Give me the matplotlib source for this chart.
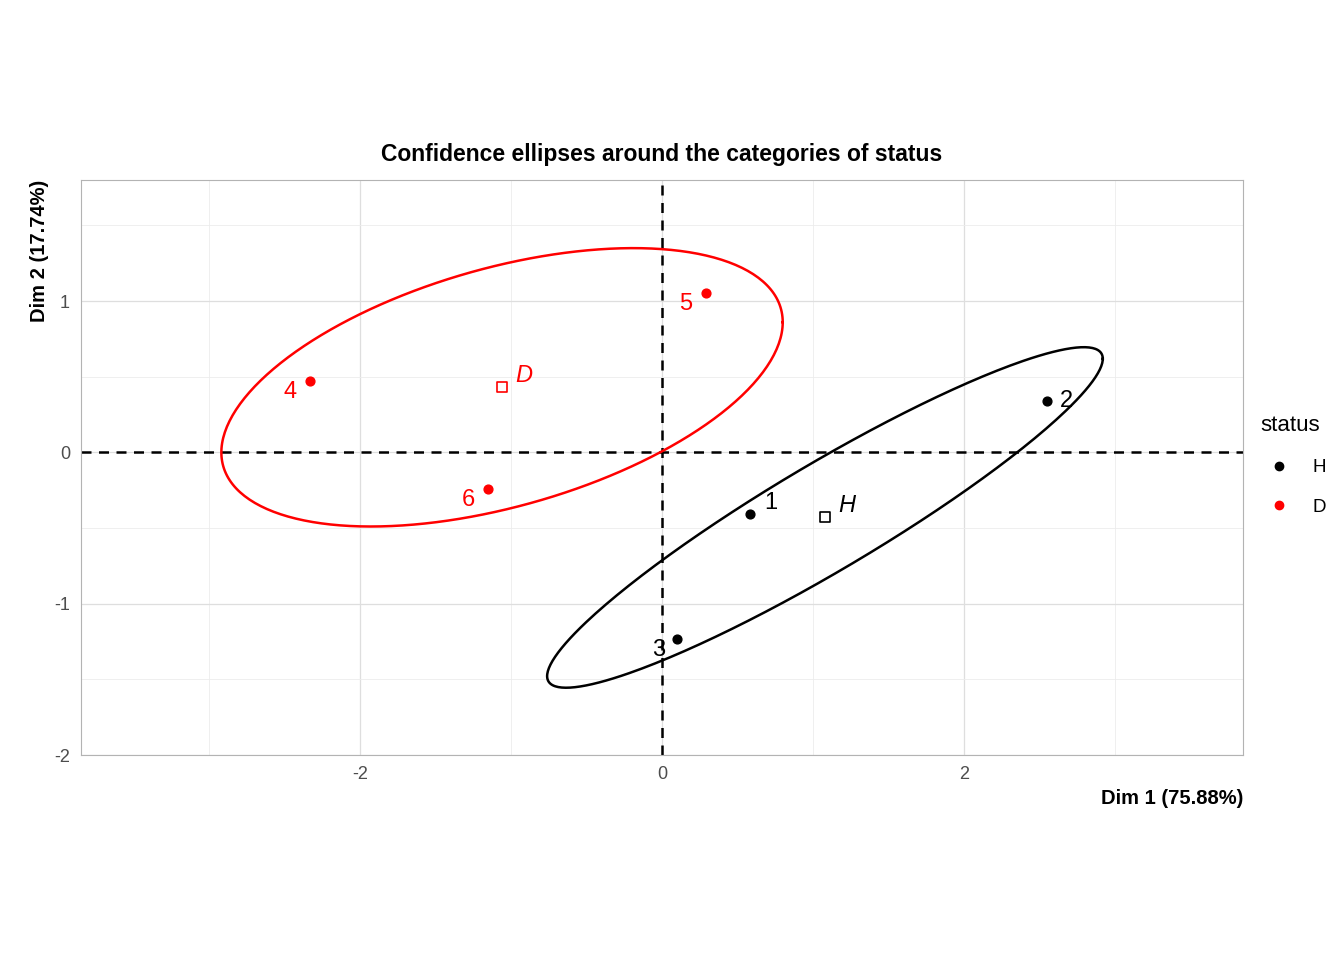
import numpy as np
import matplotlib.pyplot as plt
from matplotlib.lines import Line2D

plt.rcParams["font.family"] = ["Liberation Sans", "DejaVu Sans"]
plt.rcParams["axes.unicode_minus"] = False

# individuals
ind_labels = ["1", "2", "3", "4", "5", "6"]
ind_x = [0.58, 2.55, 0.10, -2.33, 0.29, -1.15]
ind_y = [-0.41, 0.34, -1.23, 0.47, 1.05, -0.24]
ind_status = ["H", "H", "H", "D", "D", "D"]

# category centres
cat_labels = ["H", "D"]
cat_x = [1.08, -1.06]
cat_y = [-0.43, 0.43]
# ellipse shape (covariance-like)
cat_cov = [[[3.39, 1.93], [1.93, 1.266]],
           [[3.46, 0.80], [0.80, 0.846]]]
colors = {"H": "black", "D": "red"}

fig = plt.figure(figsize=(13.44, 9.6), dpi=100)
ax = fig.add_axes([0.0603, 0.2135, 0.8645, 0.599])

t = np.linspace(0, 2 * np.pi, 300)
circ = np.vstack([np.cos(t), np.sin(t)])
for lab, cx, cy, cov in zip(cat_labels, cat_x, cat_y, cat_cov):
    L = np.linalg.cholesky(np.array(cov))
    e = L @ circ
    ax.plot(cx + e[0], cy + e[1], color=colors[lab], lw=1.8, zorder=3)
    ax.scatter(cx, cy, marker="s", s=55, facecolor="white",
               edgecolor=colors[lab], lw=1.2, zorder=4)
    ax.text(cx + 0.09, cy + 0.0, lab, color=colors[lab], fontsize=17,
            style="italic", va="bottom", ha="left", zorder=5)

offsets = {"1": (0.1, 0.0, "left", "bottom"), "2": (0.09, 0.0, "left", "center"),
           "3": (-0.08, 0.0, "right", "top"), "4": (-0.09, 0.0, "right", "top"),
           "5": (-0.09, 0.0, "right", "top"), "6": (-0.09, 0.0, "right", "top")}
for lab, x, y, s in zip(ind_labels, ind_x, ind_y, ind_status):
    ax.scatter(x, y, color=colors[s], s=40, zorder=4)
    dx, dy, ha, va = offsets[lab]
    ax.text(x + dx, y + dy, lab, color=colors[s], fontsize=17, ha=ha, va=va, zorder=5)

ax.axhline(0, color="black", ls="--", lw=1.8, dashes=(4, 3), zorder=2)
ax.axvline(0, color="black", ls="--", lw=1.8, dashes=(4, 3), zorder=2)

ax.set_xlim(-3.85, 3.85)
ax.set_ylim(-2.0, 1.8)
ax.set_xticks([-2, 0, 2])
ax.set_yticks([-2, -1, 0, 1])
ax.set_xticks(np.arange(-3, 4, 1), minor=True)
ax.set_yticks(np.arange(-1.5, 1.8, 1), minor=True)
ax.grid(which="major", color="#dedede", lw=0.9)
ax.grid(which="minor", color="#ececec", lw=0.6)
ax.set_axisbelow(True)
ax.tick_params(which="both", length=0, labelsize=13, labelcolor="#4d4d4d", pad=8)
for sp in ax.spines.values():
    sp.set_color("#b3b3b3")

ax.set_title("Confidence ellipses around the categories of status",
             fontsize=16.5, fontweight="bold", pad=14)
ax.set_xlabel("Dim 1 (75.88%)", fontsize=14.5, fontweight="bold", loc="right")
ax.set_ylabel("Dim 2 (17.74%)", fontsize=14.5, fontweight="bold", loc="top")

handles = [Line2D([], [], marker="o", ls="", color=colors[k], markersize=6) for k in cat_labels]
leg = fig.legend(handles, cat_labels, title="status", loc="center left",
                 bbox_to_anchor=(0.925, 0.515), frameon=False, fontsize=13.5,
                 title_fontsize=16, handletextpad=0.8, labelspacing=1.2)
leg._legend_box.align = "left"

fig.savefig("out.png", dpi=100)
